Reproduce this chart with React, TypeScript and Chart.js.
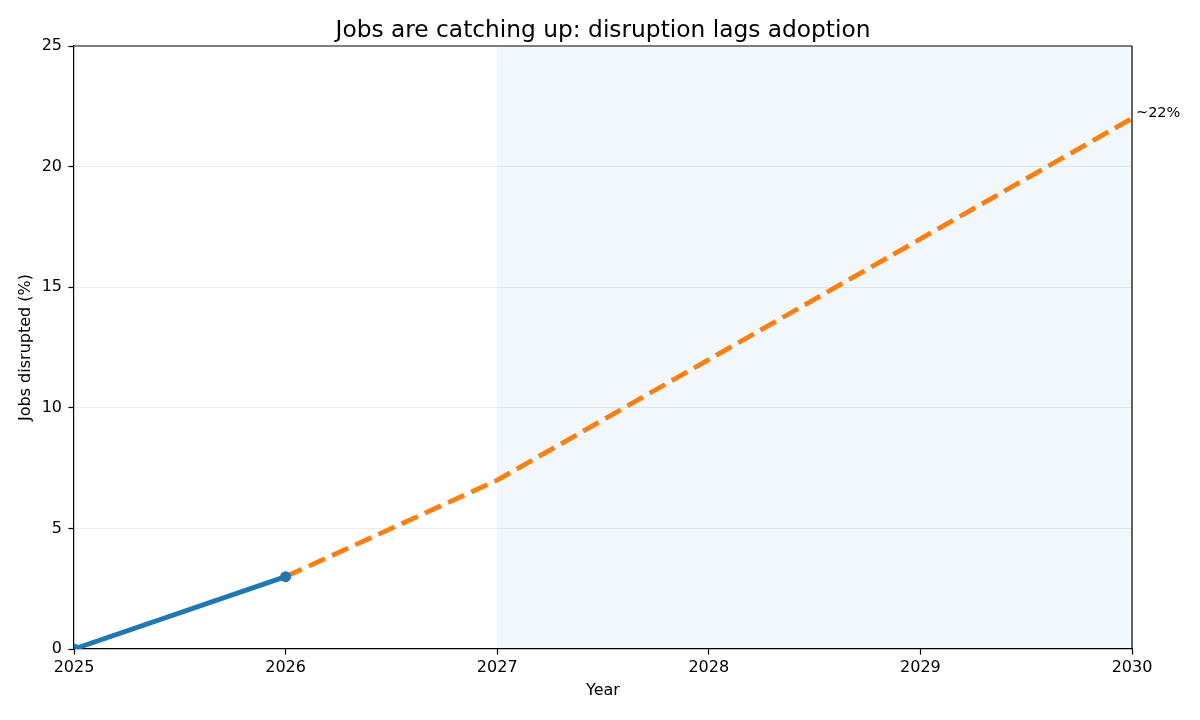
import React, { useEffect, useRef } from "react";
import { Chart, registerables } from "chart.js";

Chart.register(...registerables);

const actualYears = [2025, 2026];
const actualValues = [0, 3];
const forecastYears = [2026, 2027, 2028, 2029, 2030];
const forecastValues = [3, 7, 12, 17, 22];
const shadeStart = 2027;
const shadeEnd = 2030;
const endLabel = "~22%";
const titleText = "Jobs are catching up: disruption lags adoption";
const xTitle = "Year";
const yTitle = "Jobs disrupted (%)";

const FONT = "'DejaVu Sans', sans-serif";

const decorPlugin = {
  id: "decor",
  beforeDraw(chart: any) {
    const { ctx, chartArea, scales } = chart;
    const x = scales.x;
    const x0 = x.getPixelForValue(shadeStart);
    const x1 = x.getPixelForValue(shadeEnd);
    ctx.save();
    ctx.fillStyle = "rgba(31,119,180,0.06)";
    ctx.fillRect(x0, chartArea.top, x1 - x0, chartArea.bottom - chartArea.top);
    ctx.restore();
  },
  afterDraw(chart: any) {
    const { ctx, chartArea, scales } = chart;
    ctx.save();
    ctx.strokeStyle = "#000";
    ctx.lineWidth = 1.2;
    ctx.beginPath();
    ctx.moveTo(chartArea.left, chartArea.top);
    ctx.lineTo(chartArea.right, chartArea.top);
    ctx.lineTo(chartArea.right, chartArea.bottom);
    ctx.stroke();
    // title centred over the plot area
    ctx.fillStyle = "#000";
    ctx.font = `23.3px ${FONT}`;
    ctx.textAlign = "center";
    ctx.textBaseline = "alphabetic";
    ctx.fillText(titleText, (chartArea.left + chartArea.right) / 2, 36.5);
    // end label
    const lx = scales.x.getPixelForValue(forecastYears[forecastYears.length - 1]);
    const ly = scales.y.getPixelForValue(forecastValues[forecastValues.length - 1]);
    ctx.font = `14.5px ${FONT}`;
    ctx.textAlign = "left";
    ctx.textBaseline = "middle";
    ctx.fillText(endLabel, lx + 4, ly - 5);
    ctx.restore();
  },
};

export default function App() {
  const ref = useRef<HTMLCanvasElement | null>(null);
  useEffect(() => {
    if (!ref.current) return;
    const chart = new Chart(ref.current, {
      type: "line",
      data: {
        datasets: [
          {
            label: "Actual",
            data: actualYears.map((x, i) => ({ x, y: actualValues[i] })),
            borderColor: "#1f77b4",
            backgroundColor: "#1f77b4",
            borderWidth: 4.8,
            pointRadius: 5.5,
            pointBorderWidth: 0,
            pointBackgroundColor: "#1f77b4",
            clip: 0,
            order: 1,
          },
          {
            label: "Forecast",
            data: forecastYears.map((x, i) => ({ x, y: forecastValues[i] })),
            borderColor: "#ff7f0e",
            backgroundColor: "#ff7f0e",
            borderWidth: 4.8,
            borderDash: [17.8, 7.7],
            borderCapStyle: "butt",
            pointRadius: 0,
            clip: 0,
            order: 2,
          },
        ],
      },
      options: {
        responsive: false,
        animation: false,
        devicePixelRatio: 1,
        layout: { padding: { left: 0, right: 68, top: 46, bottom: 0 } },
        plugins: {
          legend: { display: false },
          tooltip: { enabled: false },
          title: { display: false },
        },
        scales: {
          x: {
            type: "linear",
            min: 2025,
            max: 2030,
            afterFit(scale: any) {
              scale.height = 71;
            },
            ticks: {
              stepSize: 1,
              color: "#000",
              font: { family: FONT, size: 16 },
              padding: 4,
              maxRotation: 0,
              callback: (v: any) => String(v),
            },
            grid: {
              display: true,
              drawOnChartArea: false,
              drawTicks: true,
              tickLength: 5.6,
              tickWidth: 1.2,
              tickColor: "#000",
            },
            border: { display: true, color: "#000", width: 1.2 },
            title: {
              display: true,
              text: xTitle,
              color: "#000",
              font: { family: FONT, size: 16 },
              padding: { top: 0, bottom: 19.4 },
            },
          },
          y: {
            type: "linear",
            min: 0,
            max: 25,
            afterFit(scale: any) {
              scale.width = 74;
            },
            ticks: {
              stepSize: 5,
              color: "#000",
              font: { family: FONT, size: 16 },
              padding: 6.4,
            },
            grid: {
              display: true,
              color: (c: any) =>
                c.tick && (c.tick.value === 0 || c.tick.value === 25)
                  ? "rgba(0,0,0,0)"
                  : "rgba(0,0,0,0.08)",
              lineWidth: 1,
              drawTicks: true,
              tickLength: 5.6,
              tickWidth: 1.2,
              tickColor: "#000",
            },
            border: { display: true, color: "#000", width: 1.2 },
            title: {
              display: true,
              text: yTitle,
              color: "#000",
              font: { family: FONT, size: 16 },
              padding: { top: 16.4, bottom: 0 },
            },
          },
        },
      },
      plugins: [decorPlugin],
    } as any);
    return () => chart.destroy();
  }, []);
  return (
    <div style={{ position: "fixed", left: 0, top: 0, width: 1200, height: 720, background: "#fff" }}>
      <canvas ref={ref} width={1200} height={720} style={{ width: 1200, height: 720 }} />
    </div>
  );
}
